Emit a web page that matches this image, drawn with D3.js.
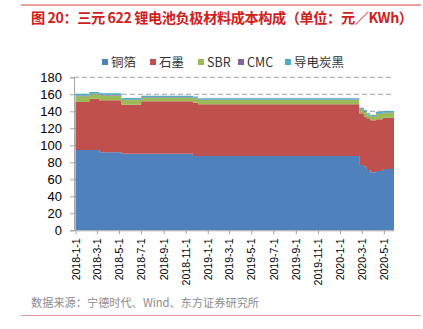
<!DOCTYPE html>
<html><head><meta charset="utf-8">
<script src="https://cdn.jsdelivr.net/npm/d3@7"></script>
<style>
body{margin:0;background:#fff;}
svg{display:block;font-family:"Noto Sans CJK SC","Liberation Sans",sans-serif;}
</style></head>
<body><svg id="c" width="423" height="329"></svg>
<script>
const dates = ["2018-01-01","2018-02-08","2018-03-08","2018-05-08","2018-07-01","2018-11-21","2018-12-05","2020-02-23","2020-03-07","2020-03-15","2020-03-25","2020-04-09","2020-04-28","2020-05-29"];
const copper   = [94.5, 94.5, 91.8, 90.1, 90.1, 87.4, 87.4, 76.8, 74.8, 70.9, 68.2, 69.8, 72.1, 72.1];
const graphite = [56.4, 60.3, 61.1, 57.7, 61.7, 62.7, 60.8, 60.8, 58.8, 60.9, 61.2, 60.8, 60.4, 60.4];
const sbr      = [6.8, 5.4, 5.8, 5.5, 4.5, 5.2, 5.0, 4.6, 5.5, 4.0, 4.3, 6.2, 5.5, 5.5];
const cmc      = [0.8, 0.7, 0.7, 0.6, 0.5, 0.6, 0.6, 0.5, 0.6, 0.5, 0.5, 0.7, 0.6, 0.6];
const carbon   = [2.2, 1.8, 1.8, 1.7, 1.5, 1.6, 1.5, 1.5, 1.8, 1.3, 1.4, 2.0, 1.8, 1.8];
const seriesNames = ["铜箔","石墨","SBR","CMC","导电炭黑"];
const colors = ["#4F81BD","#C0504D","#9BBB59","#8064A2","#4BACC6"];
const yTicks = [0,20,40,60,80,100,120,140,160,180];
const xTickLabels = ["2018-1-1","2018-3-1","2018-5-1","2018-7-1","2018-9-1","2018-11-1","2019-1-1","2019-3-1","2019-5-1","2019-7-1","2019-9-1","2019-11-1","2020-1-1","2020-3-1","2020-5-1"];

const svg = d3.select("#c");
const parse = d3.timeParse("%Y-%m-%d");
const rows = dates.map((d,i)=>({date:parse(d), "铜箔":copper[i], "石墨":graphite[i], "SBR":sbr[i], "CMC":cmc[i], "导电炭黑":carbon[i]}));
const stack = d3.stack().keys(seriesNames)(rows);

const x = d3.scaleTime().domain([parse(dates[0]), parse(dates[dates.length-1])]).range([75.5, 394]);
const y = d3.scaleLinear().domain([0,180]).range([230.3, 77.3]);

// top line & title
svg.append("line").attr("x1",21).attr("x2",421).attr("y1",5).attr("y2",5).attr("stroke","#D9423C").attr("stroke-width",1);
svg.append("text").attr("x",31).attr("y",23).attr("fill","#D0201A").attr("font-size",14.2).attr("font-weight","bold")
  .attr("textLength",382).attr("lengthAdjust","spacing")
  .text("图 20：三元 622 锂电池负极材料成本构成（单位：元／KWh）");

// grid
svg.append("g").selectAll("line").data(yTicks.filter(t=>t>0)).join("line")
  .attr("x1",74).attr("x2",394).attr("y1",d=>y(d)).attr("y2",d=>y(d))
  .attr("stroke","#A0A0A0").attr("stroke-dasharray","5,3").attr("stroke-width",1);

// areas
const area = d3.area().curve(d3.curveStepAfter).x(d=>x(d.data.date)).y0(d=>y(d[0])).y1(d=>y(d[1]));
svg.append("g").selectAll("path").data(stack).join("path")
  .attr("d",area).attr("fill",(d,i)=>colors[i]);

// y axis
const yAxis = d3.axisLeft(y).tickValues(yTicks).tickSize(4).tickPadding(8);
const gy = svg.append("g").attr("transform","translate(74,0)").call(yAxis);
gy.select(".domain").attr("stroke","#A6A6A6");
gy.selectAll(".tick line").attr("stroke","#A6A6A6");
gy.selectAll("text").attr("font-size",13).attr("fill","#000").attr("font-family","Liberation Sans, Arial, sans-serif");

// x axis
const xAxis = d3.axisBottom(x).tickValues(xTickLabels.map(t=>parse(t.replace(/-(\d)(?=-|$)/g,"-0$1")))).tickSize(4).tickFormat((d,i)=>xTickLabels[i]);
const gx = svg.append("g").attr("transform","translate(0,230.3)").call(xAxis);
gx.select(".domain").attr("stroke","#A6A6A6").attr("d","M74,0.5H394");
gx.selectAll(".tick line").attr("stroke","#A6A6A6");
gx.selectAll("text").attr("font-size",10.5).attr("fill","#000").attr("font-family","Liberation Sans, Arial, sans-serif")
  .attr("transform","rotate(-90)").attr("text-anchor","end").attr("dy","0.35em").attr("x",-8).attr("y",0);

// legend
const legX = [102,150,198,238,285];
const leg = svg.append("g").selectAll("g").data(seriesNames).join("g").attr("transform",(d,i)=>`translate(${legX[i]},63)`);
leg.append("rect").attr("x",0).attr("y",-4).attr("width",6).attr("height",6).attr("fill",(d,i)=>colors[i]);
leg.append("text").attr("x",9).attr("y",4).attr("font-size",12.5).attr("fill","#333").text(d=>d);

// source
svg.append("text").attr("x",31).attr("y",307).attr("font-size",11.2).attr("fill","#8C8C8C").text("数据来源：宁德时代、Wind、东方证券研究所");
svg.append("line").attr("x1",21).attr("x2",421).attr("y1",315.5).attr("y2",315.5).attr("stroke","#E39A9A").attr("stroke-width",1);
</script></body></html>
